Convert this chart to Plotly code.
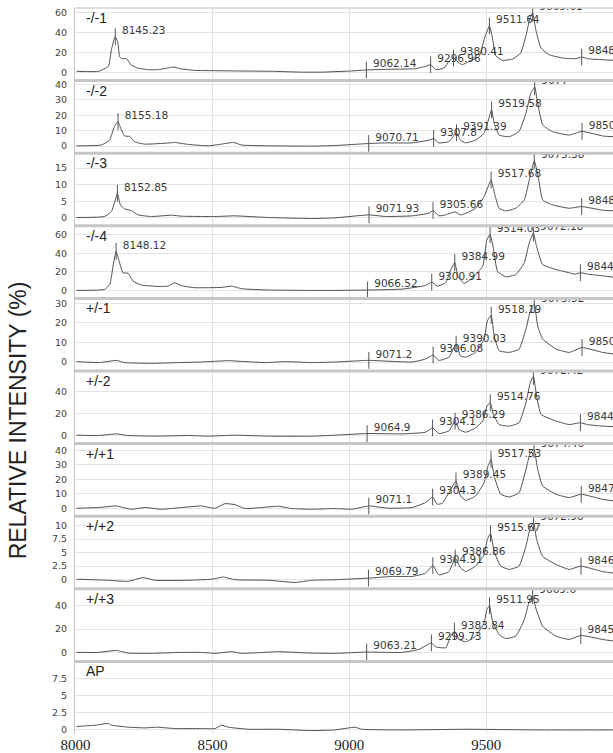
import plotly.graph_objects as go
from plotly.subplots import make_subplots

PANEL_NAMES = ["-/-1", "-/-2", "-/-3", "-/-4", "+/-1", "+/-2", "+/+1", "+/+2", "+/+3", "AP"]
X_TICKS = [8000, 8500, 9000, 9500]

# ---- panel 1: -/-1
S1_X = [8004, 8084, 8120, 8131, 8140, 8145.23, 8154, 8161, 8169, 8187, 8202, 8226, 8263, 8300, 8338, 8356,
        8387, 8436, 8497, 8581, 8728, 8826, 8900, 9009, 9062.14, 9132, 9242, 9278, 9296.96, 9315, 9346, 9364,
        9380.41, 9401, 9413, 9437, 9474, 9492, 9511.64, 9522, 9535, 9559, 9596, 9626, 9644, 9660, 9669.61,
        9681, 9700, 9730, 9779, 9828, 9848.5, 9870, 9925, 9969]
S1_Y = [1.3, 1.3, 6.3, 23, 33, 36, 31, 16, 14, 14, 8, 4.7, 3, 3, 4.7, 5.7,
        3.7, 2.3, 2, 1.7, 1.3, 0.5, 0.5, 1.7, 2.7, 3.3, 4, 6.3, 8, 3, 4.7, 11.3,
        14.7, 9.7, 8, 11.3, 16.3, 33, 47, 36, 17, 12.3, 13.7, 19.7, 36, 55, 60,
        43, 24.7, 18, 14.7, 14, 15.7, 14, 13, 12.3]
S1_PEAKS = ["8145.23", "9062.14", "9296.96", "9380.41", "9511.64", "9669.61", "9848.5"]

# ---- panel 2: -/-2
S2_X = [8004, 8094, 8124, 8142, 8155.18, 8165, 8179, 8198, 8216, 8253, 8338, 8362, 8412, 8485, 8534, 8577,
        8607, 8705, 8863, 8948, 9070.71, 9132, 9229, 9291, 9307.8, 9327, 9364, 9391.39, 9406, 9425, 9461,
        9492, 9508, 9519.58, 9529, 9547, 9584, 9620, 9645, 9663, 9677, 9688, 9706, 9742, 9803, 9850, 9925, 9969]
S2_Y = [0.2, 0.7, 3.9, 12.7, 16, 11.6, 6.6, 6.3, 2.8, 1.3, 2, 2.4, 1.1, 0.2, 1.3, 2.4,
        0.7, 0.2, 0, 0.4, 1.7, 2.1, 2.1, 3.9, 5, 2.1, 3, 8.7, 3.9, 2.1, 3.9,
        8.3, 17, 23.6, 14.9, 7.2, 6.1, 9.6, 21.4, 34.5, 38.5, 28, 13.8, 9.4, 7.2, 9.6, 6.6, 6]
S2_PEAKS = ["8155.18", "9070.71", "9307.8", "9391.39", "9519.58", "9677", "9850"]

# ---- panel 3: -/-3
S3_X = [8004, 8106, 8131, 8147, 8152.85, 8164, 8179, 8204, 8228, 8277, 8351, 8387, 8509, 8582, 8705, 8863,
        8948, 9071.93, 9132, 9229, 9291, 9305.66, 9327, 9352, 9386, 9405, 9430, 9461, 9492, 9517.68, 9530,
        9547, 9571, 9608, 9639, 9660, 9675.38, 9690, 9706, 9742, 9803, 9848.5, 9925, 9969]
S3_Y = [0.1, 0.4, 1.9, 5.9, 7.4, 3.9, 2.7, 2.2, 0.9, 0.4, 0.8, 0.5, 0.4, 0.6, 0.1, -0.2,
        0, 0.9, 0.4, 0.6, 1.4, 2.2, 0.6, 0.9, 1.8, 0.9, 1.5, 2.9, 6.4, 11.4, 7.4,
        2.9, 2.1, 2.9, 5.4, 12.4, 17.2, 12.4, 5.4, 3.9, 2.9, 3.4, 2.3, 2.1]
S3_PEAKS = ["8152.85", "9071.93", "9305.66", "9517.68", "9675.38", "9848.5"]

# ---- panel 4: -/-4
S4_X = [8004, 8106, 8125, 8137, 8148.12, 8161, 8173, 8192, 8210, 8241, 8302, 8338, 8362, 8387, 8436, 8534,
        8570, 8607, 8705, 8863, 8948, 9066.52, 9193, 9278, 9300.91, 9321, 9352, 9370, 9384.99, 9397, 9419,
        9450, 9487, 9502, 9514.03, 9525, 9541, 9571, 9608, 9639, 9657, 9672.18, 9684, 9706, 9755, 9803,
        9825, 9844, 9870, 9925, 9969]
S4_Y = [0, 1, 6.4, 26, 42, 29.6, 19, 18.5, 10, 5.7, 4.3, 4.6, 8.2, 5, 2.9, 3.2,
        4.6, 1.8, 0.4, 0, 0, 0.4, 1.4, 5.3, 8.9, 4.6, 8.2, 22, 30, 15, 7.5,
        13.5, 26, 54, 60, 47, 20.6, 14.6, 17, 29.6, 51, 61.7, 47, 27.8, 22.5, 19,
        17.4, 19, 17.5, 15.7, 14]
S4_PEAKS = ["8148.12", "9066.52", "9300.91", "9384.99", "9514.03", "9672.18", "9844"]

# ---- panel 5: +/-1
S5_X = [8004, 8087, 8149, 8179, 8277, 8375, 8460, 8558, 8582, 8693, 8766, 8863, 8948, 9046, 9071.2, 9229,
        9278, 9306.08, 9327, 9364, 9390.03, 9406, 9425, 9461, 9492, 9504, 9518.19, 9529, 9547, 9584, 9620,
        9645, 9663, 9675.52, 9688, 9706, 9755, 9803, 9850, 9925, 9969]
S5_Y = [0.2, -0.3, 0.8, -0.3, -0.7, -0.3, 0, 0.7, 0.5, -0.3, 0.2, -0.3, 0, 0.7, 0.85, 0,
        1.5, 3.6, 0.8, 2.5, 9.1, 3.1, 2.5, 4.9, 11.7, 21, 23.9, 13.4, 5.8, 4.9, 6.6,
        16.8, 27, 29.4, 18.4, 11.7, 6.6, 4.9, 7.4, 4.9, 4]
S5_PEAKS = ["9071.2", "9306.08", "9390.03", "9518.19", "9675.52", "9850"]

# ---- panel 6: +/-2
S6_X = [8004, 8084, 8149, 8192, 8290, 8412, 8485, 8582, 8705, 8863, 8948, 9064.9, 9193, 9278, 9304.1, 9327,
        9364, 9386.29, 9401, 9425, 9461, 9487, 9503, 9514.76, 9526, 9547, 9584, 9620, 9645, 9661, 9672.42,
        9684, 9700, 9755, 9803, 9844, 9870, 9925, 9969]
S6_Y = [0.3, 0, 1.5, 0, -0.6, 0, -0.6, 0.3, -0.6, -0.6, 0.3, 1.8, 1.5, 3, 7, 1.8,
        4.2, 13.2, 5.5, 3, 7, 13.2, 27, 30, 19.4, 10, 8.6, 11.7, 30, 48.6, 54,
        36, 19.4, 13.2, 10, 11.7, 10, 8.6, 8]
S6_PEAKS = ["9064.9", "9304.1", "9386.29", "9514.76", "9672.42", "9844"]

# ---- panel 7: +/+1
S7_X = [8004, 8084, 8149, 8202, 8253, 8314, 8387, 8460, 8509, 8546, 8582, 8619, 8741, 8790, 8863, 8948,
        9009, 9071.1, 9144, 9229, 9278, 9304.3, 9321, 9339, 9364, 9389.45, 9406, 9425, 9461, 9492, 9506,
        9517.53, 9529, 9553, 9584, 9620, 9645, 9661, 9674.46, 9688, 9706, 9755, 9803, 9847, 9925, 9969]
S7_Y = [0, 0.5, 1.6, -0.7, 0.5, -0.7, 0.5, 1.6, 0, 3.2, 2.5, -0.2, 1.4, -0.2, -0.7, -0.2,
        -0.7, 1.6, 0, 0.5, 3.9, 7.8, 2.8, 3.4, 10.8, 18.9, 8.5, 5.5, 8.5, 17.7, 29,
        33.8, 22.3, 9.7, 7.8, 10.8, 26.9, 38.4, 40.7, 26.9, 15.4, 9.7, 7.4, 9.7, 6.2, 5]
S7_PEAKS = ["9071.1", "9304.3", "9389.45", "9517.53", "9674.46", "9847"]

# ---- panel 8: +/+2
S8_X = [8004, 8118, 8191, 8246, 8290, 8412, 8497, 8540, 8582, 8705, 8802, 8863, 8948, 9069.79, 9157, 9229,
        9278, 9304.91, 9327, 9364, 9386.86, 9406, 9425, 9461, 9492, 9504, 9515.67, 9529, 9553, 9584, 9620,
        9645, 9661, 9672.96, 9684, 9706, 9755, 9803, 9846, 9925, 9969]
S8_Y = [0.1, -0.1, -0.3, 0.4, -0.1, -0.1, 0.1, 0.5, 0, -0.1, -0.5, -0.1, 0, 0.3, 0.6, 0.6,
        1.2, 2.6, 0.9, 1.5, 4, 2.2, 1.5, 2.5, 4.6, 7.4, 8.5, 5.2, 2.5, 1.9, 2.5,
        6.2, 9.6, 10.5, 7.4, 4.3, 2.8, 1.9, 2.5, 1.5, 1.2]
S8_PEAKS = ["9069.79", "9304.91", "9386.86", "9515.67", "9672.96", "9846"]

# ---- panel 9: +/+3
S9_X = [8004, 8084, 8149, 8192, 8277, 8387, 8460, 8509, 8570, 8607, 8741, 8863, 8948, 9063.21, 9193, 9254,
        9299.73, 9315, 9352, 9370, 9383.84, 9401, 9425, 9461, 9492, 9502, 9511.95, 9523, 9547, 9571, 9608,
        9639, 9657, 9669.6, 9681, 9706, 9755, 9803, 9845.5, 9925, 9969]
S9_Y = [0, 0, 1.7, -0.6, -0.8, 0, 0, -0.8, 0.6, -0.8, 0.6, -0.6, -0.8, 0.3, 0, 2.6,
        8.2, 4.8, 4, 13.9, 18.2, 11.1, 9, 13.9, 25.2, 36.6, 40, 26.6, 15.3, 11.9, 13.9,
        28, 43.7, 48.5, 38, 22.4, 13.9, 11.1, 14.5, 11.1, 9.6]
S9_PEAKS = ["9063.21", "9299.73", "9383.84", "9511.95", "9669.6", "9845.5"]

# ---- panel 10: AP
S10_X = [8004, 8040, 8075, 8118, 8131, 8195, 8253, 8300, 8362, 8460, 8509, 8534, 8558, 8631, 8741, 8863,
         8948, 9021, 9045, 9193, 9437, 9681, 9969]
S10_Y = [0.4, 0.5, 0.6, 0.86, 0.6, 0.3, 0.2, 0.3, 0.1, 0.1, 0.1, 0.6, 0.3, 0, 0, -0.2,
         -0.1, 0.3, 0, -0.1, 0, -0.1, -0.1]
S10_PEAKS = []

SERIES_X = [S1_X, S2_X, S3_X, S4_X, S5_X, S6_X, S7_X, S8_X, S9_X, S10_X]
SERIES_Y = [S1_Y, S2_Y, S3_Y, S4_Y, S5_Y, S6_Y, S7_Y, S8_Y, S9_Y, S10_Y]
SERIES_PEAKS = [S1_PEAKS, S2_PEAKS, S3_PEAKS, S4_PEAKS, S5_PEAKS, S6_PEAKS, S7_PEAKS, S8_PEAKS, S9_PEAKS, S10_PEAKS]

Y_TICKS = [[0, 20, 40, 60], [0, 10, 20, 30, 40], [0, 5, 10, 15], [0, 20, 40, 60], [0, 10, 20, 30],
           [0, 20, 40], [0, 10, 20, 30, 40], [0, 2.5, 5, 7.5, 10], [0, 20, 40], [0, 2.5, 5, 7.5]]
Y_RANGES = [[-8, 65], [-4.6, 42.6], [-2.4, 19.5], [-8.6, 69.5], [-4.6, 32.5],
            [-7.4, 59], [-5.5, 44.8], [-1.67, 11.7], [-7.7, 54.5], [-0.7, 10]]
X_RANGE = [7998, 9963]

N = len(PANEL_NAMES)
fig = make_subplots(rows=N, cols=1, shared_xaxes=True, vertical_spacing=0)

for i in range(N):
    r = i + 1
    xs, ys, peaks = SERIES_X[i], SERIES_Y[i], SERIES_PEAKS[i]
    fig.add_trace(go.Scatter(x=xs, y=ys, mode="lines",
                             line=dict(color="#505050", width=1, shape="spline", smoothing=0.4),
                             showlegend=False, hoverinfo="skip"), row=r, col=1)
    if peaks:
        lookup = dict(zip(xs, ys))
        px = [float(p) for p in peaks]
        py = [lookup[v] for v in px]
        fig.add_trace(go.Scatter(x=px, y=py, mode="markers",
                                 marker=dict(symbol="line-ns", size=12,
                                             line=dict(color="#555555", width=1)),
                                 showlegend=False, hoverinfo="skip", cliponaxis=True), row=r, col=1)
        fig.add_trace(go.Scatter(x=px, y=py, mode="text", text=peaks,
                                 texttemplate="\u00a0\u00a0%{text}",
                                 textposition="top right",
                                 textfont=dict(family="DejaVu Sans", size=10.5, color="#3a3a3a"),
                                 showlegend=False, hoverinfo="skip", cliponaxis=True), row=r, col=1)
    yname = "yaxis" if r == 1 else f"yaxis{r}"
    fig.layout[yname].update(range=Y_RANGES[i], tickvals=Y_TICKS[i], showgrid=True,
                             gridcolor="#e4e4e4", gridwidth=1, zeroline=False,
                             showline=True, linecolor="#c4c4c4", linewidth=1,
                             tickfont=dict(family="DejaVu Sans", size=9.5, color="#444"),
                             ticklabelstandoff=5, fixedrange=True)
    xname = "xaxis" if r == 1 else f"xaxis{r}"
    fig.layout[xname].update(range=X_RANGE, tickvals=X_TICKS, showgrid=True,
                             gridcolor="#e2e2e2", gridwidth=1, zeroline=False, showline=False)
    xd = "x domain" if r == 1 else f"x{r} domain"
    yd = "y domain" if r == 1 else f"y{r} domain"
    fig.add_annotation(text=PANEL_NAMES[i], xref=xd, yref=yd, x=0, y=1, xanchor="left", yanchor="top",
                       xshift=9, yshift=0, showarrow=False,
                       font=dict(family="Liberation Sans", size=14, color="#222"))

fig.layout[f"xaxis{N}"].update(showticklabels=True,
                               tickfont=dict(family="Liberation Serif", size=15, color="#222"))

shapes = [dict(type="line", xref="paper", yref="paper", x0=0, x1=1, y0=1, y1=1,
               line=dict(color="#bdbdbd", width=1))]
for k in range(1, N):
    yb = k / N
    shapes.append(dict(type="line", xref="paper", yref="paper", x0=0, x1=1, y0=yb, y1=yb,
                       line=dict(color="#c6c6c6", width=3)))
fig.update_layout(shapes=shapes)

fig.add_annotation(text="RELATIVE INTENSITY (%)", xref="paper", yref="paper", x=-0.106, y=0.432,
                   xanchor="center", yanchor="middle", textangle=-90, showarrow=False,
                   font=dict(family="Liberation Sans", size=23, color="#222"))

fig.update_layout(width=613, height=753, margin=dict(l=75, r=0, t=8, b=16),
                  paper_bgcolor="white", plot_bgcolor="white", showlegend=False)

fig.write_html("out.html")
